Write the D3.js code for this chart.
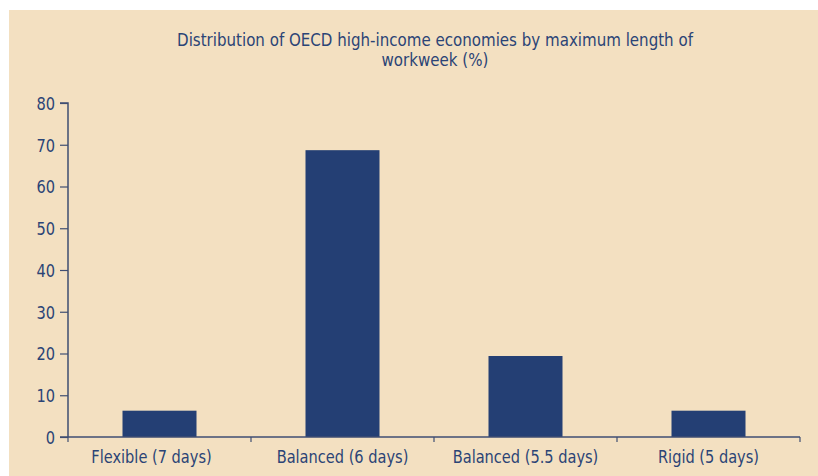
<!DOCTYPE html>
<html>
<head>
<meta charset="utf-8">
<script src="https://cdn.jsdelivr.net/npm/d3@7"></script>
<style>
  html, body { margin: 0; padding: 0; background: #ffffff; }
  svg { display: block; }
  text { font-family: "DejaVu Sans Condensed", "Liberation Sans Narrow", "Roboto", sans-serif; fill: #2b4476; }
</style>
</head>
<body>
<svg id="chart" width="818" height="476"></svg>
<script>
const categories = ["Flexible (7 days)", "Balanced (6 days)", "Balanced (5.5 days)", "Rigid (5 days)"];
const values = [6.3, 68.7, 19.4, 6.3];
const yTicks = [0, 10, 20, 30, 40, 50, 60, 70, 80];
const titleLines = ["Distribution of OECD high-income economies by maximum length of", "workweek (%)"];

const W = 818, H = 476;
const svg = d3.select("#chart");

svg.append("rect").attr("x", 9).attr("y", 10).attr("width", W - 9).attr("height", H - 10)
  .attr("fill", "#f3e0c1");

const margin = { left: 68, right: 18, top: 103, bottom: 39 };
const xb = d3.scaleBand().domain(categories).range([margin.left, W - margin.right]);
const y = d3.scaleLinear().domain([0, 80]).range([H - margin.bottom, margin.top]);

function squeeze(sel, f) {
  sel.each(function () {
    const L = this.getComputedTextLength();
    d3.select(this).attr("textLength", L * f).attr("lengthAdjust", "spacingAndGlyphs");
  });
}

titleLines.forEach((t, i) => {
  svg.append("text").attr("text-anchor", "middle").style("font-size", "18px")
    .attr("x", 435).attr("y", 46 + i * 20).text(t)
    .call(squeeze, 0.93);
});

// bars
svg.selectAll("rect.bar").data(values).enter().append("rect")
  .attr("class", "bar")
  .attr("x", (d, i) => xb(categories[i]) + xb.bandwidth() / 2 - 37)
  .attr("width", 74)
  .attr("y", d => y(d))
  .attr("height", d => y(0) - y(d))
  .attr("fill", "#243f74");

// y axis
const yAxis = d3.axisLeft(y).tickValues(yTicks).tickSize(8).tickPadding(5);
const gy = svg.append("g").attr("transform", `translate(${margin.left},0)`).call(yAxis);
gy.select(".domain").attr("stroke", "#3f4e72").attr("stroke-width", 1.5).attr("d", `M-8,${y(80)}H0V${y(0)}`);
gy.selectAll(".tick line").attr("stroke", "#3f4e72").attr("stroke-width", 1.2);
gy.selectAll(".tick text").style("font-size", "18px").style("font-family", "DejaVu Sans Condensed, sans-serif")
  .attr("fill", "#2b4476").attr("dy", "0.36em").call(squeeze, 0.9);

// x axis
const gx = svg.append("g").attr("transform", `translate(0,${y(0)})`);
gx.append("line").attr("x1", margin.left - 8).attr("x2", W - margin.right).attr("y1", 0).attr("y2", 0)
  .attr("stroke", "#3f4e72").attr("stroke-width", 1.5);
const edges = categories.map(c => xb(c)).concat([xb(categories[categories.length - 1]) + xb.bandwidth()]);
gx.selectAll("line.tk").data(edges).enter().append("line").attr("class", "tk")
  .attr("x1", d => d).attr("x2", d => d).attr("y1", 0).attr("y2", 5)
  .attr("stroke", "#3f4e72").attr("stroke-width", 1.2);
gx.selectAll("text").data(categories).enter().append("text")
  .attr("x", (d, i) => xb(d) + xb.bandwidth() / 2 + (i === 0 ? -8 : 0))
  .attr("y", 26)
  .attr("text-anchor", "middle")
  .style("font-size", "18px")
  .text(d => d)
  .call(squeeze, 0.9);
</script>
</body>
</html>
